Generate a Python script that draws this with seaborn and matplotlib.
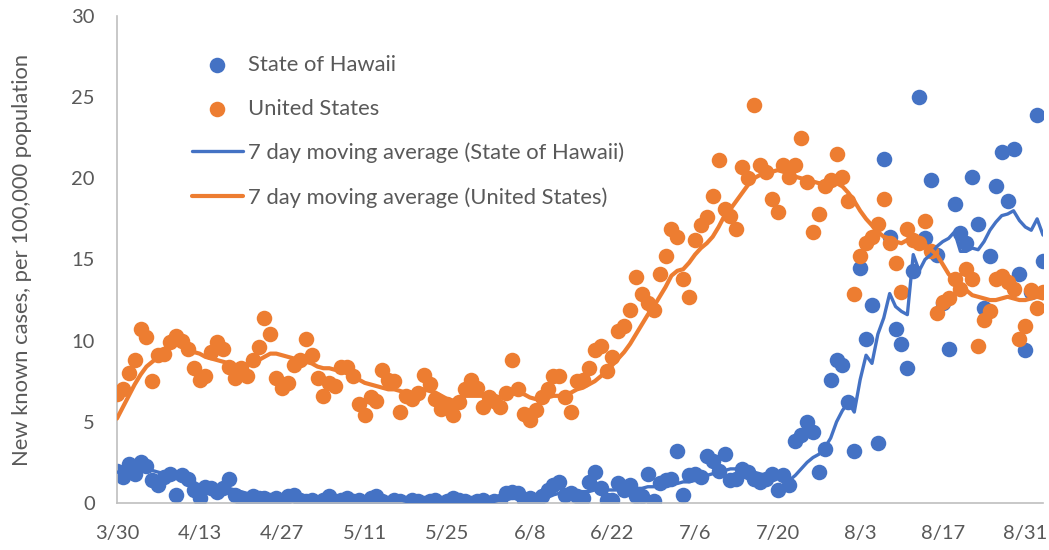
import pandas as pd
import numpy as np
import matplotlib
matplotlib.use("Agg")
import matplotlib.pyplot as plt
import seaborn as sns

# daily values, 3/30 .. 9/3 (2020)
dates = pd.date_range("2020-03-30", "2020-09-03", freq="D")

hawaii = [
    2.0, 1.6, 2.4, 1.8, 2.5, 2.3, 1.4, 1.1, 1.6, 1.8,
    0.5, 1.7, 1.5, 0.8, 0.3, 1.0, 0.9, 0.7, 0.9, 1.5,
    0.5, 0.3, 0.1, 0.4, 0.3, 0.3, 0.2, 0.3, 0.1, 0.4,
    0.5, 0.2, 0.1, 0.2, 0.0, 0.2, 0.4, 0.1, 0.2, 0.3,
    0.1, 0.2, 0.0, 0.3, 0.4, 0.1, 0.0, 0.2, 0.1, 0.0,
    0.2, 0.1, 0.0, 0.1, 0.2, 0.0, 0.1, 0.3, 0.2, 0.1,
    0.0, 0.1, 0.2, 0.0, 0.1, 0.1, 0.6, 0.7, 0.6, 0.2,
    0.3, 0.1, 0.4, 0.8, 1.1, 1.3, 0.5, 0.6, 0.4, 0.3,
    1.3, 1.9, 0.9, 0.2, 0.2, 1.2, 0.8, 1.1, 0.4, 0.4,
    1.8, 0.1, 1.2, 1.4, 1.5, 3.2, 0.5, 1.7, 1.8, 1.6,
    2.9, 2.6, 2.0, 3.0, 1.4, 1.5, 2.1, 1.9, 1.5, 1.3,
    1.5, 1.8, 0.8, 1.7, 1.1, 3.8, 4.2, 5.0, 4.4, 1.9,
    3.3, 7.6, 8.8, 8.5, 6.2, 3.2, 14.5, 10.1, 12.2, 3.7,
    21.2, 16.4, 10.7, 9.8, 8.3, 14.3, 25.0, 16.3, 19.9, 15.3,
    12.3, 9.5, 18.4, 16.6, 16.0, 20.1, 17.2, 12.0, 15.2, 19.5,
    21.6, 18.6, 21.8, 14.1, 9.4, 13.0, 23.9, 14.9,
]

us = [
    6.7, 7.0, 8.0, 8.8, 10.7, 10.2, 7.5, 9.1, 9.2, 9.9,
    10.3, 10.0, 9.5, 8.3, 7.6, 7.8, 9.3, 9.9, 9.5, 8.4,
    7.7, 8.3, 7.8, 8.8, 9.6, 11.4, 10.4, 7.7, 7.1, 7.4,
    8.5, 8.8, 10.1, 9.1, 7.7, 6.6, 7.4, 7.2, 8.4, 8.4,
    7.8, 6.1, 5.4, 6.5, 6.3, 8.2, 7.6, 7.5, 5.6, 6.6,
    6.4, 6.8, 7.9, 7.3, 6.4, 5.8, 6.1, 5.4, 6.2, 7.0,
    7.6, 7.1, 5.9, 6.5, 6.3, 5.9, 6.8, 8.8, 7.0, 5.5,
    5.1, 5.7, 6.5, 7.0, 7.8, 7.8, 6.5, 5.6, 7.5, 7.6,
    8.3, 9.4, 9.7, 8.1, 9.0, 10.6, 10.9, 11.9, 13.9, 12.9,
    12.3, 11.9, 14.1, 15.2, 16.9, 16.4, 13.8, 12.7, 16.2, 17.1,
    17.6, 18.9, 21.1, 18.1, 17.7, 16.9, 20.7, 20.0, 24.5, 20.8,
    20.4, 18.7, 17.9, 20.8, 20.1, 20.8, 22.5, 19.8, 16.7, 17.8,
    19.5, 19.9, 21.5, 20.1, 18.6, 12.9, 15.2, 16.0, 16.4, 17.2,
    18.7, 16.0, 14.8, 13.0, 16.9, 16.2, 16.0, 17.4, 15.5, 11.7,
    12.4, 12.6, 13.8, 13.2, 14.4, 13.8, 9.7, 11.3, 11.8, 13.8,
    14.0, 13.6, 13.2, 10.1, 10.9, 13.1, 12.0, 13.0,
]

hawaii_ma = [
    1.9, 1.9, 2.0, 2.0, 2.1, 2.1, 2.0, 1.9, 1.8, 1.7,
    1.5, 1.5, 1.4, 1.3, 1.1, 1.0, 0.9, 0.9, 0.9, 0.9,
    0.8, 0.7, 0.6, 0.5, 0.5, 0.4, 0.3, 0.3, 0.3, 0.3,
    0.3, 0.3, 0.2, 0.2, 0.2, 0.2, 0.2, 0.2, 0.2, 0.2,
    0.2, 0.2, 0.2, 0.2, 0.2, 0.2, 0.2, 0.2, 0.2, 0.1,
    0.1, 0.1, 0.1, 0.1, 0.1, 0.1, 0.1, 0.1, 0.1, 0.1,
    0.1, 0.1, 0.1, 0.1, 0.1, 0.2, 0.2, 0.3, 0.3, 0.4,
    0.4, 0.4, 0.4, 0.5, 0.5, 0.6, 0.6, 0.6, 0.7, 0.7,
    0.7, 0.8, 0.8, 0.8, 0.8, 0.8, 0.9, 0.9, 0.9, 0.9,
    1.0, 1.0, 1.1, 1.1, 1.2, 1.2, 1.3, 1.3, 1.4, 1.5,
    1.7, 1.8, 1.9, 2.0, 2.1, 2.1, 2.1, 2.0, 1.9, 1.8,
    1.7, 1.6, 1.5, 1.4, 1.4, 1.7, 2.1, 2.5, 2.8, 3.0,
    3.4, 4.0, 5.0, 5.7, 6.2, 5.6, 7.6, 9.1, 8.6, 10.4,
    11.4, 12.9, 12.1, 11.8, 11.6, 15.3, 14.3, 15.0, 15.3, 15.8,
    16.1, 16.3, 16.7, 15.5, 15.5, 15.7, 15.6, 16.1, 16.8, 17.3,
    17.7, 17.8, 18.0, 17.4, 17.0, 16.8, 17.5, 16.5,
]

us_ma = [
    5.2, 5.9, 6.6, 7.3, 7.9, 8.4, 8.7, 9.0, 9.3, 9.6,
    9.8, 9.7, 9.5, 9.3, 9.2, 9.0, 8.9, 8.8, 8.7, 8.6,
    8.5, 8.5, 8.5, 8.6, 8.8, 9.0, 9.2, 9.2, 9.1, 9.0,
    8.9, 8.8, 8.7, 8.6, 8.4, 8.3, 8.3, 8.2, 8.2, 8.0,
    7.8, 7.6, 7.4, 7.3, 7.2, 7.1, 7.0, 7.0, 6.9, 6.8,
    6.8, 7.0, 7.0, 6.9, 6.8, 6.6, 6.4, 6.3, 6.4, 6.6,
    6.6, 6.6, 6.6, 6.6, 6.5, 6.5, 6.6, 6.7, 6.8, 6.7,
    6.5, 6.4, 6.5, 6.5, 6.6, 6.6, 6.7, 6.8, 7.0, 7.1,
    7.3, 7.5, 7.8, 8.1, 8.5, 8.9, 9.3, 9.8, 10.4, 11.0,
    11.6, 12.1, 12.7, 13.3, 14.0, 14.3, 14.4, 14.8, 15.3, 15.7,
    16.0, 16.4, 17.0, 17.7, 18.1, 18.6, 19.1, 19.6, 20.0, 20.2,
    20.3, 20.4, 20.5, 20.4, 20.3, 20.1, 20.0, 19.9, 19.8, 19.7,
    19.7, 19.7, 19.7, 19.5, 19.1, 18.6, 18.0, 17.5, 17.1, 16.7,
    16.4, 16.3, 16.1, 16.0, 16.2, 16.4, 16.2, 15.9, 15.6, 15.3,
    14.7, 14.1, 13.7, 13.4, 13.1, 12.8, 12.7, 12.6, 12.5, 12.5,
    12.6, 12.7, 12.6, 12.5, 12.5, 12.6, 12.7, 12.6,
]

tick_labels = ["3/30", "4/13", "4/27", "5/11", "5/25", "6/8",
               "6/22", "7/6", "7/20", "8/3", "8/17", "8/31"]

df = pd.DataFrame({"date": dates, "hawaii": hawaii, "us": us,
                   "hawaii_ma": hawaii_ma, "us_ma": us_ma})

BLUE = "#4472C4"
ORANGE = "#ED7D31"
GRAY = "#595959"

sns.set_style("white")
plt.rcParams["font.family"] = ["Lato", "DejaVu Sans"]

fig = plt.figure(figsize=(10.49, 5.5), dpi=100)
ax = fig.add_axes([0.1115, 0.0855, 0.8828, 0.8855])

sns.scatterplot(data=df, x="date", y="hawaii", ax=ax, color=BLUE, s=125,
                linewidth=0, label="State of Hawaii", zorder=2)
sns.scatterplot(data=df, x="date", y="us", ax=ax, color=ORANGE, s=125,
                linewidth=0, label="United States", zorder=3)
sns.lineplot(data=df, x="date", y="hawaii_ma", ax=ax, color=BLUE, lw=2.4,
             label="7 day moving average (State of Hawaii)", zorder=4)
sns.lineplot(data=df, x="date", y="us_ma", ax=ax, color=ORANGE, lw=3.0,
             label="7 day moving average (United States)", zorder=5)

ax.set_xlim(dates[0], dates[-1])
ax.set_ylim(0, 30)
ax.set_yticks(range(0, 31, 5))
ax.set_xticks(dates[::14])
ax.set_xticklabels(tick_labels)
ax.tick_params(axis="y", direction="in", length=7, color="#BFBFBF",
               labelsize=14.5, labelcolor=GRAY, pad=16)
ax.tick_params(axis="x", length=0, labelsize=14.5, labelcolor=GRAY, pad=16)
ax.set_xlabel("")
ax.set_ylabel("New known cases, per 100,000 population", fontsize=15.8,
              color=GRAY)
ax.yaxis.set_label_coords(-0.092, 0.5)

for side in ["top", "right"]:
    ax.spines[side].set_visible(False)
for side in ["left", "bottom"]:
    ax.spines[side].set_color("#BFBFBF")
    ax.spines[side].set_linewidth(1.2)

leg = ax.legend(loc="upper left", bbox_to_anchor=(0.0807, 0.9205), frameon=False,
                fontsize=15.8, handlelength=2.33, handletextpad=0.24,
                labelspacing=1.09, borderpad=0, borderaxespad=0)
for t in leg.get_texts():
    t.set_color(GRAY)

plt.savefig("out.png", dpi=100)
plt.close()
